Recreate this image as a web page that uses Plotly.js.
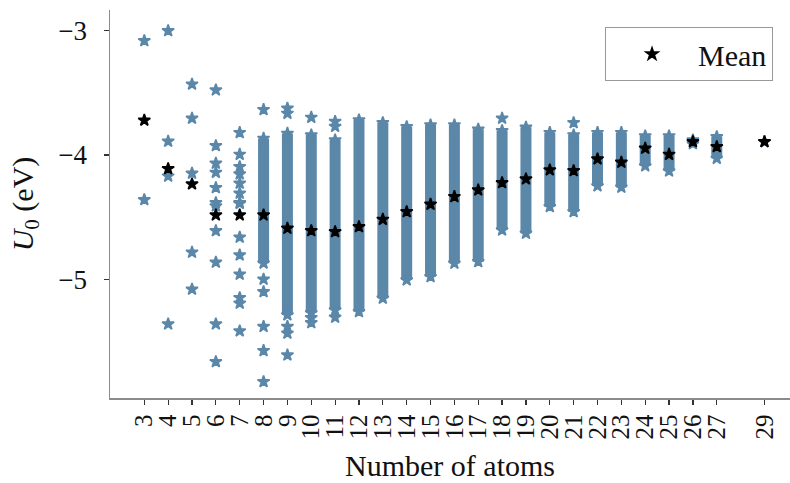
<!DOCTYPE html>
<html>
<head>
<meta charset="utf-8">
<script src="https://cdn.plot.ly/plotly-3.0.1.min.js"></script>
<style>
html,body{margin:0;padding:0;background:#fff;}
#chart{width:790px;height:483px;}
</style>
</head>
<body>
<div id="chart"></div>
<script>
// Number of atoms (x categories shown as ticks)
const atoms = [3,4,5,6,7,8,9,10,11,12,13,14,15,16,17,18,19,20,21,22,23,24,25,26,27,29];
// Mean U0 per atom count (eV)
const meanU0 = [-3.72,-4.11,-4.233,-4.483,-4.483,-4.483,-4.59,-4.609,-4.617,-4.577,-4.518,-4.456,-4.397,-4.335,-4.282,-4.223,-4.193,-4.12,-4.126,-4.032,-4.059,-3.946,-3.995,-3.893,-3.933,-3.893];
// Densely packed range of U0 values per atom count (null = no dense band)
const denseTop    = [null,null,null,null,null,-3.866,-3.826,-3.839,-3.88,-3.718,-3.74,-3.772,-3.759,-3.759,-3.793,-3.805,-3.777,-3.82,-3.839,-3.82,-3.82,-3.847,-3.847,-3.88,-3.853,null];
const denseBottom = [null,null,null,null,null,-4.87,-5.287,-5.27,-5.247,-5.26,-5.153,-5.006,-4.979,-4.871,-4.858,-4.604,-4.63,-4.416,-4.456,-4.249,-4.26,-4.088,-4.129,-3.91,-4.027,null];
// Individually visible molecules (atom count, U0 in eV)
const isolatedAtoms = [3,3, 4,4,4,4, 5,5,5,5,5, 6,6,6,6,6,6,6,6,6,6,6, 7,7,7,7,7,7,7,7,7,7,7,7,7,7, 8,8,8,8,8,8, 9,9,9,9,9, 10,10,10, 11,11,11, 18, 21, 29];
const isolatedU0 = [-3.08,-4.36,
  -3.00,-3.89,-4.17,-5.36,
  -3.43,-3.705,-4.147,-4.783,-5.08,
  -3.477,-3.925,-4.067,-4.14,-4.263,-4.384,-4.41,-4.61,-4.863,-5.36,-5.663,
  -3.82,-3.995,-4.094,-4.153,-4.228,-4.308,-4.384,-4.39,-4.662,-4.805,-4.96,-5.148,-5.193,-5.416,
  -3.635,-5.00,-5.10,-5.38,-5.574,-5.824,
  -3.624,-3.665,-5.38,-5.434,-5.61,
  -3.697,-5.31,-5.35,
  -3.73,-3.77,-5.306,
  -3.705,
  -3.74,
  -3.893];
const tickLabels = atoms.map(String);

const blue = '#5b87a9';
const serif = 'Liberation Serif, Times New Roman, serif';

// build dense band segments from the arrays
const segX = [], segY = [];
atoms.forEach((n, i) => {
  if (denseTop[i] !== null) {
    segX.push(n, n, null);
    segY.push(denseTop[i], denseBottom[i], null);
  }
});

const starMarker = (c) => ({symbol: 'star', size: 9, color: c, line: {width: 1.6, color: c}});

const traces = [
  {
    x: segX, y: segY, type: 'scatter', mode: 'lines+markers',
    line: {color: blue, width: 11}, connectgaps: false,
    marker: starMarker(blue),
    showlegend: false, hoverinfo: 'skip'
  },
  {
    x: isolatedAtoms, y: isolatedU0, type: 'scatter', mode: 'markers',
    marker: starMarker(blue),
    showlegend: false
  },
  {
    x: atoms, y: meanU0, type: 'scatter', mode: 'markers', name: 'Mean',
    marker: starMarker('#000000')
  }
];

const layout = {
  width: 790, height: 483,
  margin: {l: 110, r: 0, t: 10, b: 85},
  paper_bgcolor: '#ffffff', plot_bgcolor: '#ffffff',
  font: {family: serif, size: 24, color: '#111'},
  xaxis: {
    range: [1.562, 30.07],
    tickmode: 'array', tickvals: atoms, ticktext: tickLabels,
    tickangle: -90,
    ticks: 'outside', ticklen: 5, tickwidth: 1.2, tickcolor: '#333',
    showline: true, linecolor: '#8c8c8c', linewidth: 1.5,
    showgrid: false, zeroline: false,
    tickfont: {family: serif, size: 25, color: '#111'},
    title: {text: 'Number of atoms', font: {family: serif, size: 30, color: '#111'}, standoff: 16}
  },
  yaxis: {
    range: [-5.955, -2.833],
    tickmode: 'array', tickvals: [-3, -4, -5],
    ticks: 'outside', ticklen: 5, tickwidth: 1.2, tickcolor: '#333',
    ticklabelstandoff: 11,
    showline: true, linecolor: '#8c8c8c', linewidth: 1.5,
    showgrid: false, zeroline: false,
    tickfont: {family: serif, size: 27, color: '#111'},
    title: {text: '<i>U</i><sub>0</sub> (eV)', font: {family: serif, size: 30, color: '#111'}, standoff: 16}
  },
  legend: {
    x: 0.728, y: 0.956, xanchor: 'left', yanchor: 'top',
    bordercolor: '#999', borderwidth: 1, bgcolor: '#fff',
    font: {family: serif, size: 30, color: '#111'},
    itemwidth: 82
  },
  showlegend: true
};

Plotly.newPlot('chart', traces, layout, {staticPlot: true});
</script>
</body>
</html>
